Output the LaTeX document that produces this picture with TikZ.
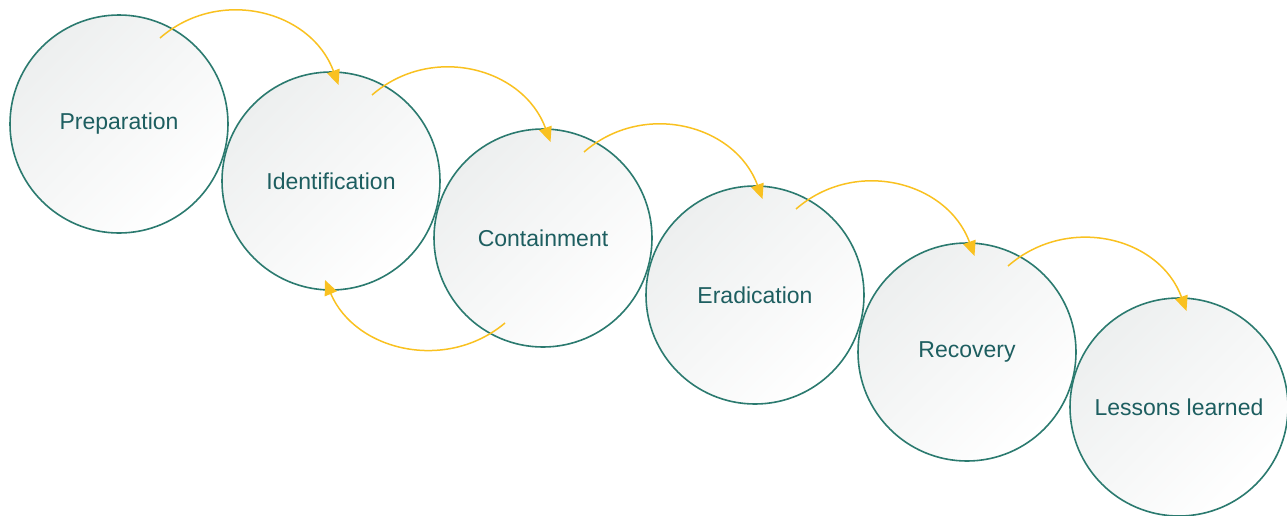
\documentclass[tikz,border=0pt]{standalone}
\usepackage{fontspec}
\setmainfont{Liberation Sans}
\usetikzlibrary{calc,arrows.meta}
\definecolor{ring}{HTML}{2B7A6F}
\definecolor{txt}{HTML}{1D5E60}
\definecolor{flow}{HTML}{F9C120}
\definecolor{shade}{HTML}{EDEFEF}
\begin{document}
\begin{tikzpicture}[x=1pt,y=1pt,
  phase/.style={circle,minimum size=218pt,inner sep=0pt,
    top color=shade,bottom color=white,middle color=white!50!shade,shading angle=45,
    text=txt,font=\fontsize{23}{26}\selectfont},
  ringline/.style={draw=ring,line width=1.6pt},
  flowarrow/.style={draw=flow,line width=1.5pt,
    -{Triangle[length=15pt,width=13pt]}}]
\useasboundingbox (0,0) rectangle (1287,-515);
\node[phase] (prep)  at (119,-124) {Preparation};
\node[phase] (ident) at (331,-181) {Identification};
\node[phase] (cont)  at (543,-238) {Containment};
\node[phase] (erad)  at (755,-295) {Eradication};
\node[phase] (rec)   at (967,-352) {Recovery};
\node[phase] (less)  at (1179,-407) {Lessons learned};
\foreach \n in {prep,ident,cont,erad,rec,less}
  \draw[ringline] (\n.center) circle[radius=109pt];
\foreach \a/\b [count=\i] in {prep/ident,ident/cont,cont/erad,erad/rec,rec/less}{
  \coordinate (s\i) at ($(\a.center)+(41,86)$);
  \coordinate (e\i) at ($(\b.center)+(7.5,96)$);
  \draw[flowarrow] (s\i) .. controls +(41:79pt) and +(110:79pt) .. (e\i);
}
\coordinate (rs) at ($(cont.center)+(-38,-85)$);
\coordinate (re) at ($(ident.center)+(-6,-99)$);
\draw[flowarrow] (rs) .. controls +(-140:77pt) and +(-67:77pt) .. (re);
\end{tikzpicture}
\end{document}
